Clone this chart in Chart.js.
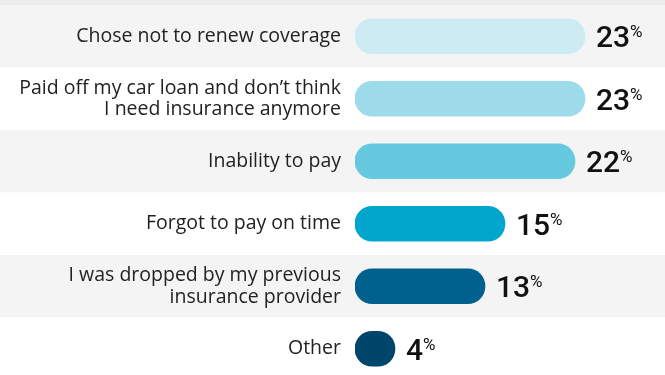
<!DOCTYPE html>
<html>
<head>
<meta charset="utf-8">
<script src="https://cdn.jsdelivr.net/npm/chart.js@4/dist/chart.umd.min.js"></script>
<style>
  html, body { margin:0; padding:0; background:#fff; overflow:hidden; }
  #wrap { position:relative; width:665px; height:380px; }
</style>
</head>
<body>
<div id="wrap"><canvas id="reasons"></canvas></div>
<script>
const reasons = [
  "Chose not to renew coverage",
  ["Paid off my car loan and don\u2019t think", "I need insurance anymore"],
  "Inability to pay",
  "Forgot to pay on time",
  ["I was dropped by my previous", "insurance provider"],
  "Other"
];
const shares = [23, 23, 22, 15, 13, 4];
const barColors = ["#cdebf3", "#9ddaea", "#67c9df", "#00a6cc", "#00608e", "#00456a"];

const VALUE_FONT = "Roboto";

// alternating row bands behind the bars
const rowBands = {
  id: "rowBands",
  beforeDraw(chart){
    const { ctx, scales:{ y }, width } = chart;
    const step = y.getPixelForValue(1) - y.getPixelForValue(0);
    ctx.save();
    ctx.fillStyle = "#ededed";
    ctx.fillRect(0, 0, width, chart.chartArea.top);
    reasons.forEach((_, i) => {
      const c = y.getPixelForValue(i);
      ctx.fillStyle = i % 2 === 0 ? "#f4f4f4" : "#ffffff";
      ctx.fillRect(0, c - step/2, width, step);
    });
    ctx.restore();
  }
};

// value with a small raised percent sign at the end of each bar
const valueLabels = {
  id: "valueLabels",
  afterDatasetsDraw(chart){
    const { ctx } = chart;
    const meta = chart.getDatasetMeta(0);
    ctx.save();
    ctx.fillStyle = "#111";
    ctx.textBaseline = "alphabetic";
    meta.data.forEach((bar, i) => {
      const x = bar.x + 11;
      const base = bar.y + 11;
      ctx.font = `500 30px ${VALUE_FONT}`;
      const num = String(shares[i]);
      ctx.fillText(num, x, base);
      const w = ctx.measureText(num).width;
      ctx.font = `400 17px ${VALUE_FONT}`;
      ctx.fillText("%", x + w, base - 10);
    });
    ctx.restore();
  }
};

new Chart(document.getElementById("reasons"), {
  type: "bar",
  data: {
    labels: reasons,
    datasets: [{
      data: shares,
      backgroundColor: barColors,
      barThickness: 35,
      borderRadius: 18,
      borderSkipped: false
    }]
  },
  options: {
    indexAxis: "y",
    responsive: true,
    maintainAspectRatio: false,
    animation: false,
    layout: { padding: { top: 5, right: 10, left: 0, bottom: 0 } },
    plugins: { legend: { display: false }, tooltip: { enabled: false } },
    scales: {
      x: { display: false, min: 0, max: 30 },
      y: {
        grid: { display: false, drawTicks: false },
        border: { display: false },
        afterFit(scale){
          scale.width = 355;
          scale.paddingTop = 0;
          scale.paddingBottom = 0;
        },
        ticks: {
          padding: 14,
          color: "#222",
          font: { family: "Open Sans", size: 19.5, lineHeight: 1.1 }
        }
      }
    }
  },
  plugins: [rowBands, valueLabels]
});
</script>
</body>
</html>
